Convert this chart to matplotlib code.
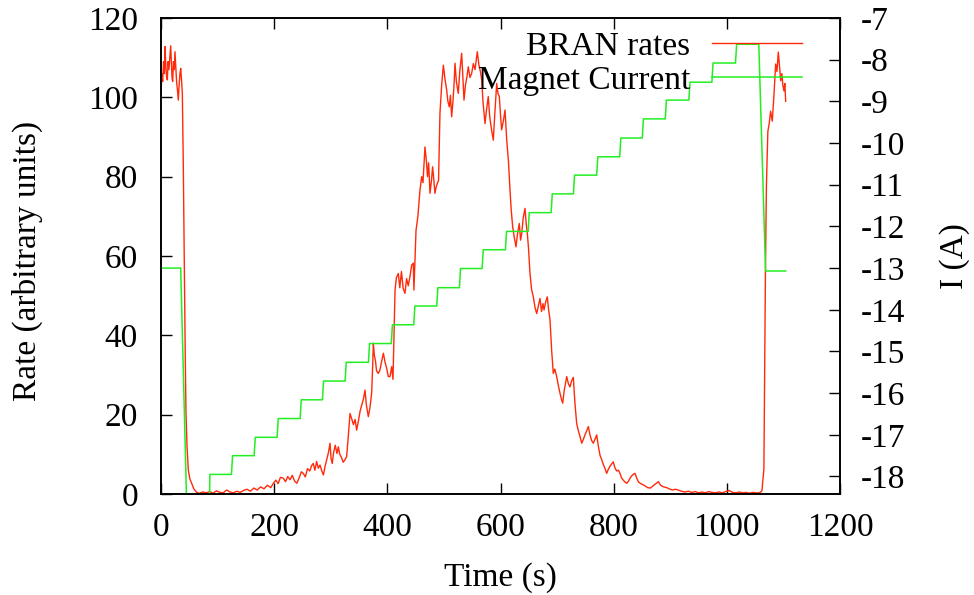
import numpy as np
import matplotlib
matplotlib.use('Agg')
import matplotlib.pyplot as plt

plt.rcParams['font.family'] = ['Liberation Serif', 'DejaVu Serif']
plt.rcParams['axes.unicode_minus'] = False

# BRAN rates (arbitrary units)
rate_t = [0, 1.5, 3, 4.5, 6, 7.1, 8.5, 10, 11.2, 12.5, 14, 15.5, 17.1, 18.5, 19.5, 20.6, 22, 23.5,
          24.7, 26, 27.5, 29, 30.6, 32, 33.5, 34.8, 36, 37.7,
          39.4, 40.6, 41.8, 43, 44.2, 46, 48.3, 51, 54.2, 58, 63, 68, 74, 80, 86, 92, 98, 104, 110,
          116, 122, 128, 134, 140, 146, 152, 158, 164, 170, 176, 182, 188, 194, 198.5, 203, 207, 211,
          216, 220, 224, 228, 232, 236, 240, 244, 248, 251.5, 255, 259, 263, 266, 269, 272, 275, 278,
          281, 284, 287, 290, 293, 296, 298.7, 300.5, 302.6, 305, 308, 311, 313.4, 316, 319, 322, 325,
          328, 331, 334, 337, 340, 343, 345.8, 349, 352, 355, 358, 360.5, 363, 366.4, 369, 372.3, 374,
          375.3, 377, 379, 381, 384, 387, 390, 393, 396, 399, 401.7, 404.7, 407.7, 410, 411.5, 413.6,
          416, 419.4, 422, 425, 428, 431.2, 434, 437, 440, 443, 445.9, 447, 450.7, 454, 457.7, 460.7,
          463, 466.5, 469, 471, 473, 475.4, 478, 480, 482, 484.2, 486, 488.3, 490.5, 493, 496, 499,
          502, 504.9, 507, 509.5, 511.5, 513.7, 516, 518, 519.6, 522, 525.4, 528, 531.4, 533.5, 535.5,
          538, 541, 543, 546, 549, 552, 555, 559, 562, 564.5, 566.8, 569, 572.6, 575, 578.4, 581, 584,
          587.3, 590, 593.3, 595.5, 597.9, 600, 602, 605, 608, 611, 614, 616.8, 619, 621.5, 624, 627.4,
          630, 633.2, 635.5, 637.5, 640, 643.3, 645.5, 647.4, 649.5, 652.1, 655, 658, 661, 664, 667,
          669.8, 672.5, 675, 676.9, 680, 682.7, 685, 687.5, 690.5, 693.3, 696, 699.3, 702, 705, 707.5,
          709.9, 712.5, 715, 717, 720, 722.8, 725.5, 728.7, 731.5, 734.6, 737.5, 740.5, 743.5, 746.5,
          749.5, 752.5, 755.2, 758, 761, 764, 767, 770, 773, 775.8, 778.5, 781.5, 784.5, 787.7, 790.5,
          793.5, 796.5, 799.3, 802.5, 805.5, 808.5, 811.2, 814, 817, 820, 823, 826, 829, 832, 835,
          837.7, 841, 844, 848, 852.4, 856, 860, 865, 870, 874.5, 878.9, 883, 888, 893.7, 898, 904,
          909, 914, 920, 926, 932, 938, 944, 950, 956, 962, 968, 974, 980, 986, 992, 998, 1004, 1010,
          1016, 1022, 1028, 1034, 1040, 1046, 1052, 1058, 1062, 1065.5, 1068.3, 1070, 1072.5, 1075,
          1077.3, 1080.3, 1083, 1084.5, 1086.3, 1088.5, 1091, 1093, 1095.2, 1097.3, 1099, 1101,
          1102.5, 1104]
rate_v = [100.6, 106, 104, 109, 106, 112.8, 108, 105, 104.4, 109, 107, 110, 113, 108, 105, 104, 109, 107,
          111.5, 108, 104, 102, 99.3, 103, 106, 107.3, 105, 101,
          83, 65, 49.7, 33, 20.4, 12, 6, 3.8, 2.7, 1.3, 0.4, 0.2, 0.5, 0.3, 0.6, 0.2, 0.8, 0.4, 0.3,
          1.0, 0.5, 0.3, 0.7, 0.4, 0.9, 1.2, 0.7, 1.5, 1.0, 1.8, 1.3, 2.2, 1.6, 2.7, 3.5, 2.6, 4.2,
          4.0, 3.1, 4.4, 3.6, 4.7, 3.3, 2.7, 4.0, 5.6, 5.2, 4.3, 6.4, 5.8, 7.1, 7.7, 6.0, 8.2, 6.5,
          7.3, 5.9, 4.8, 7.0, 8.8, 10.5, 12.8, 9.0, 7.7, 10.4, 12.3, 10.2, 11.9, 10.0, 9.2, 8.0, 8.6,
          9.4, 14.5, 20.3, 19.0, 17.5, 18.8, 16.1, 18.5, 21.0, 22.5, 24.1, 26.2, 22.4, 19.5, 21.5, 25.4, 32,
          38, 35, 33.6, 31.0, 30.4, 31.3, 33.5, 35.5, 33.2, 31.6, 29.6, 29.6, 32.1, 28.9, 38, 51.4,
          54.5, 55.6, 52.0, 56.1, 51.8, 50.6, 54.3, 52.5, 54.8, 57.7, 58.2, 51.4, 66.5, 70.0, 76.6, 80,
          78.5, 87.5, 84.0, 80.0, 83.5, 75.8, 79.0, 82.5, 79.5, 75.8, 77.2, 78.3, 79.0, 96, 103, 108.1,
          104.5, 101.8, 99.0, 97.6, 100.5, 95.1, 99, 103.5, 108.6, 104.0, 101, 106.5, 111.1, 105, 99.3,
          103, 105.5, 107.7, 105.0, 106, 108.5, 107.0, 111.5, 108.0, 106.5, 104.4, 99.0, 93.4, 96.5, 100.2, 95.0, 92.0,
          89.2, 96.0, 103.5, 101.0, 100.2, 95.5, 91.8, 94.0, 96.8, 89.2, 84.0, 76.6, 71.5, 67.4, 65.0, 62.3,
          65.5, 68.2, 64.0, 65.7, 69.5, 72, 68.0, 65.7, 62.0, 55.6, 51.5, 49.7, 47.0, 45.5, 47.5,
          49.3, 46.0, 48.0, 46.4, 48.5, 49.7, 46.5, 43.9, 36.0, 30.4, 31.5, 29.6, 27.5, 25.5, 24.0,
          22.9, 26.0, 28.0, 29.6, 27.8, 27, 28.5, 29.4, 23.0, 17.8, 16.0, 14.5, 12.8, 13.8,
          15.0, 16.0, 17, 15.0, 13.5, 12.8, 13.8, 14.9, 12.0, 9.8, 8.8, 7.5, 6.5, 5.2, 6.2,
          7.0, 7.6, 8.1, 6.5, 5.8, 6.0, 5.2, 4.0, 3.5, 3.0, 2.7, 3.2, 4.0, 4.6, 5.0,
          5.2, 3.9, 3.0, 2.6, 2.3, 2.0, 1.6, 1.5, 2.1, 2.6, 3.1, 2.2, 1.8, 1.6, 1.3, 1.0,
          1.2, 1.0, 0.7, 0.5, 0.7, 0.4, 0.6, 0.3, 0.5, 0.3, 0.6, 0.4, 0.3, 0.5, 0.3, 0.6, 0.9, 0.4,
          0.3, 0.5, 0.3, 0.4, 0.2, 0.4, 0.3, 0.3, 0.8, 6.3, 57.3, 78, 91.4, 93.5,
          96.5, 94, 99.9, 104, 108.4, 106.5, 111.4, 108.0, 104.2, 106, 103, 101.6,
          103.5, 99]

# Magnet current (A): start, ramp down, staircase, fall back
cur_start_t = [0, 34.8, 47.5, 84.4]
cur_start_v = [-13.0, -13.0, -19.8, -19.8]
step_t = [85.4, 125.5, 165.6, 206.2, 246.9, 286.3, 326.4, 367.6, 408.0, 447.7, 488.3, 528.4,
          568.5, 609.7, 649.8, 690.5, 729.9, 771.0, 811.7, 851.6, 892.2, 933.9, 974.6, 1016.3]
step_v = [-17.95, -17.50, -17.06, -16.61, -16.16, -15.71, -15.26, -14.81, -14.36, -13.91, -13.47,
          -13.01, -12.56, -12.12, -11.67, -11.22, -10.77, -10.33, -9.88, -9.42, -8.97, -8.54, -8.08, -7.63]
cur_end_t = [1056.5, 1068.5, 1104]
cur_end_v = [-7.63, -13.07, -13.07]

cur_t = list(cur_start_t)
cur_v = list(cur_start_v)
for t, v in zip(step_t, step_v):
    cur_t += [t - 1.0, t + 1.0]
    cur_v += [cur_v[-1], v]
cur_t += cur_end_t
cur_v += cur_end_v

red = '#ff2a0a'
green = '#22ee22'
fs = 24

fig = plt.figure(figsize=(9.74, 5.95), dpi=100)
ax = fig.add_axes([161/974, 1 - 494/595, 679/974, 476/595])
ax2 = ax.twinx()

l1, = ax.plot(rate_t, rate_v, color=red, lw=1.0, label='BRAN rates')
l2, = ax2.plot(cur_t, cur_v, color=green, lw=1.1, label='Magnet Current')

ax.set_xlim(0, 1200)
ax.set_ylim(0, 120)
ax2.set_ylim(-18.42, -7)
ax.set_xticks(range(0, 1201, 200))
ax.set_yticks(range(0, 121, 20))
ax2.set_yticks(range(-18, -6, 1))

ax.tick_params(axis='x', direction='in', length=8, width=1, top=True, labelsize=fs, pad=13)
ax.tick_params(axis='y', direction='in', length=8, width=1, right=False, labelsize=fs, pad=16.5)
ax2.tick_params(axis='y', direction='in', length=8, width=1, labelsize=fs, pad=15)
for a in (ax, ax2):
    for s in a.spines.values():
        s.set_linewidth(1.2)

fig.text(27.5/974, 1 - 261/595, 'Rate (arbitrary units)', rotation=90, ha='center', va='center', fontsize=fs)
fig.text(955/974, 1 - 256/595, 'I (A)', rotation=90, ha='center', va='center', fontsize=fs)
fig.text(500/974, 1 - 578/595, 'Time (s)', ha='center', va='center', fontsize=fs)

ax2.legend(handles=[l1, l2], loc='upper right', bbox_to_anchor=((802 - 161)/679, (494 - 31.5)/476),
           frameon=False, markerfirst=False, fontsize=fs, handlelength=2.7, handletextpad=0.66,
           borderpad=0, borderaxespad=0, labelspacing=0.09)

fig.savefig('out.png', dpi=100)
